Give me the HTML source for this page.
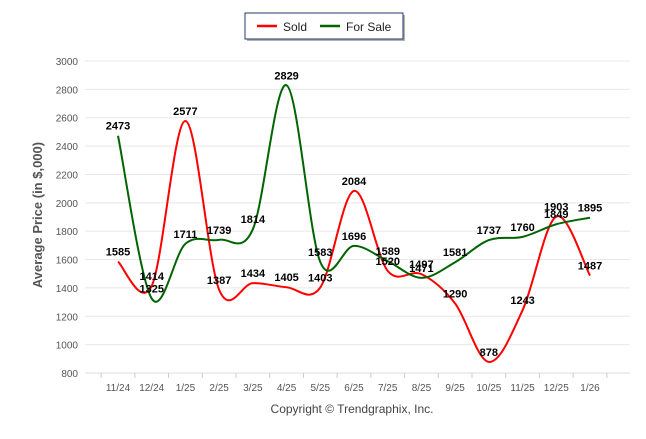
<!DOCTYPE html>
<html><head><meta charset="utf-8"><style>
body{margin:0;background:#fff;font-family:"Liberation Sans",sans-serif}
svg text{font-family:"Liberation Sans",sans-serif}
</style></head><body>
<svg width="646" height="434" viewBox="0 0 646 434">
<g>
<rect x="247" y="15" width="158" height="26" fill="#666" opacity="0.5"/>
<rect x="245" y="13" width="158" height="26" fill="#fff" stroke="#1f3864" stroke-width="1"/>
<line x1="257" y1="26" x2="277" y2="26" stroke="#ff0000" stroke-width="2.5"/>
<text x="283" y="31" font-size="12" fill="#222">Sold</text>
<line x1="320" y1="26" x2="340" y2="26" stroke="#006400" stroke-width="2.5"/>
<text x="346" y="31" font-size="12" fill="#222">For Sale</text>
</g>
<g id="grid"></g>
<g id="series"></g>
<g id="labels"></g>
<text transform="translate(42,215) rotate(-90)" text-anchor="middle" font-size="13" font-weight="bold" fill="#555">Average Price (in $,000)</text>
<text x="352" y="413" text-anchor="middle" font-size="12" fill="#444">Copyright © Trendgraphix, Inc.</text>
</svg>
<script>
const categories=["11/24","12/24","1/25","2/25","3/25","4/25","5/25","6/25","7/25","8/25","9/25","10/25","11/25","12/25","1/26"];
const sold=[1585,1414,2577,1387,1434,1405,1403,2084,1520,1497,1290,878,1243,1903,1487];
const forSale=[2473,1325,1711,1739,1814,2829,1583,1696,1589,1471,1581,1737,1760,1849,1895];
const yTicks=[800,1000,1200,1400,1600,1800,2000,2200,2400,2600,2800,3000];
const NS="http://www.w3.org/2000/svg";
const X0=118,X1=590,Y800=373,Y3000=61;
function xs(i){return X0+(X1-X0)*i/(categories.length-1);}
function ys(v){return Y800+(v-800)*(Y3000-Y800)/2200;}
function mk(t,a,p){const e=document.createElementNS(NS,t);for(const k in a)e.setAttribute(k,a[k]);p.appendChild(e);return e;}
const grid=document.getElementById('grid');
yTicks.forEach(v=>{
 const l=mk('line',{x1:85,x2:630,y1:ys(v),y2:ys(v),stroke:'#e8e8e8','stroke-width':1},grid);
 
 
 const t=mk('text',{x:78,y:ys(v)+4,'text-anchor':'end','font-size':10,fill:'#555'},grid);
 t.textContent=v;
 
 
});
mk('line',{x1:85,x2:630,y1:373,y2:373,stroke:'#ddd'},grid);
for(let i=0;i<=categories.length;i++){
 const x=xs(i)-(X1-X0)/28;
 mk('line',{x1:x,x2:x,y1:373,y2:378,stroke:'#ccc'},grid);
}
categories.forEach((c,i)=>{
 const t=mk('text',{x:xs(i),y:391,'text-anchor':'middle','font-size':10,fill:'#555'},grid);
 t.textContent=c;
 
 
});
function path(vals){
 const p=vals.map((v,i)=>[xs(i),ys(v)]);
 let d='M'+p[0][0]+','+p[0][1];
 for(let i=0;i<p.length-1;i++){
  const p0=p[i-1]||p[i],p1=p[i],p2=p[i+1],p3=p[i+2]||p2;
  const c1=[p1[0]+(p2[0]-p0[0])/6,p1[1]+(p2[1]-p0[1])/6];
  const c2=[p2[0]-(p3[0]-p1[0])/6,p2[1]-(p3[1]-p1[1])/6];
  d+=' C'+c1+' '+c2+' '+p2;
 }
 return d;
}
const sg=document.getElementById('series'),lg=document.getElementById('labels');
[[sold,'#ff0000','sold-line'],[forSale,'#006400','for-sale-line']].forEach(([vals,col,name])=>{
 const e=mk('path',{d:path(vals),fill:'none',stroke:col,'stroke-width':2},sg);
 
 
 vals.forEach((v,i)=>{
  const t=mk('text',{x:xs(i),y:ys(v)-6,'text-anchor':'middle','font-size':11,'font-weight':'bold',fill:'#000'},lg);
  t.textContent=v;
  
  
 });
});
</script>
</body></html>
